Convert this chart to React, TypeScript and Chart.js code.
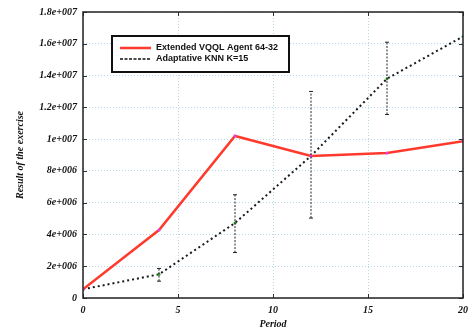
import React, { useEffect, useRef } from "react";
import { Chart, registerables } from "chart.js";

Chart.register(...registerables);

const periods = [0, 4, 8, 12, 16, 20];
const vqqlValues = [0.55e6, 4.28e6, 10.2e6, 8.94e6, 9.13e6, 9.87e6];
const knnValues = [0.55e6, 1.49e6, 4.72e6, 8.94e6, 13.8e6, 16.46e6];
const knnErrLow = [null, 1.06e6, 2.86e6, 5.03e6, 11.55e6, null];
const knnErrHigh = [null, 1.86e6, 6.5e6, 13.0e6, 16.1e6, null];
const seriesLabels = ["Extended VQQL Agent 64-32", "Adaptative KNN K=15"];
const xTitle = "Period";
const yTitle = "Result of the exercise";

const RED = "#ff3a2c";
const SERIF = "'Liberation Serif', 'Times New Roman', serif";
const SANS = "'Liberation Sans', Arial, sans-serif";

function fmtY(v: number): string {
  if (v === 0) return "0";
  const s = v.toExponential();
  return s.replace(/e\+(\d+)/, (_m, d) => "e+" + String(d).padStart(3, "0"));
}

const decorPlugin = {
  id: "decor",
  afterDatasetsDraw(chart: any) {
    const ctx = chart.ctx;
    const xs = chart.scales.x;
    const ys = chart.scales.y;
    ctx.save();
    ctx.strokeStyle = "#222";
    ctx.lineWidth = 1;
    for (let i = 0; i < periods.length; i++) {
      const lo = knnErrLow[i];
      const hi = knnErrHigh[i];
      if (lo == null || hi == null) continue;
      const px = xs.getPixelForValue(periods[i]);
      const y1 = ys.getPixelForValue(lo);
      const y2 = ys.getPixelForValue(hi);
      ctx.setLineDash([2, 1.5]);
      ctx.beginPath();
      ctx.moveTo(px, y1);
      ctx.lineTo(px, y2);
      ctx.stroke();
      ctx.setLineDash([]);
      ctx.beginPath();
      ctx.moveTo(px - 2, y1);
      ctx.lineTo(px + 2, y1);
      ctx.moveTo(px - 2, y2);
      ctx.lineTo(px + 2, y2);
      ctx.stroke();
    }
    ctx.restore();
  },
  afterDraw(chart: any) {
    const ctx = chart.ctx;
    const a = chart.chartArea;
    const xs = chart.scales.x;
    const ys = chart.scales.y;
    ctx.save();
    ctx.strokeStyle = "#333";
    ctx.lineWidth = 1;
    ctx.beginPath();
    xs.ticks.forEach((t: any) => {
      const px = Math.round(xs.getPixelForValue(t.value)) + 0.5;
      ctx.moveTo(px, a.bottom);
      ctx.lineTo(px, a.bottom - 4);
      ctx.moveTo(px, a.top);
      ctx.lineTo(px, a.top + 4);
    });
    ys.ticks.forEach((t: any) => {
      const py = Math.round(ys.getPixelForValue(t.value)) + 0.5;
      ctx.moveTo(a.left, py);
      ctx.lineTo(a.left + 4, py);
      ctx.moveTo(a.right, py);
      ctx.lineTo(a.right - 4, py);
    });
    ctx.stroke();
    ctx.strokeStyle = "#222";
    ctx.lineWidth = 1.5;
    ctx.strokeRect(a.left, a.top, a.right - a.left, a.bottom - a.top);

    // legend
    const lx = a.left + 29;
    const ly = a.top + 24;
    const lw = 177;
    const lh = 36;
    ctx.fillStyle = "#fff";
    ctx.fillRect(lx, ly, lw, lh);
    ctx.strokeStyle = "#111";
    ctx.lineWidth = 2;
    ctx.strokeRect(lx, ly, lw, lh);
    const rows = [ly + 12, ly + 23];
    ctx.lineWidth = 2.5;
    ctx.strokeStyle = RED;
    ctx.beginPath();
    ctx.moveTo(lx + 8, rows[0]);
    ctx.lineTo(lx + 39, rows[0]);
    ctx.stroke();
    ctx.strokeStyle = "#111";
    ctx.lineWidth = 1.5;
    ctx.setLineDash([3, 1.5]);
    ctx.beginPath();
    ctx.moveTo(lx + 8, rows[1]);
    ctx.lineTo(lx + 39, rows[1]);
    ctx.stroke();
    ctx.setLineDash([]);
    ctx.fillStyle = "#111";
    ctx.font = "bold 9px " + SANS;
    ctx.textBaseline = "middle";
    ctx.textAlign = "left";
    ctx.fillText(seriesLabels[0], lx + 44, rows[0]);
    ctx.fillText(seriesLabels[1], lx + 44, rows[1]);
    ctx.restore();
  },
};

export default function App() {
  const ref = useRef<HTMLCanvasElement | null>(null);
  useEffect(() => {
    if (!ref.current) return;
    const chart = new Chart(ref.current, {
      type: "line",
      data: {
        datasets: [
          {
            label: seriesLabels[0],
            data: periods.map((p, i) => ({ x: p, y: vqqlValues[i] })),
            borderColor: RED,
            borderWidth: 2.5,
            pointRadius: 1.5,
            pointBackgroundColor: "#e040e0",
            pointBorderWidth: 0,
            tension: 0,
          },
          {
            label: seriesLabels[1],
            data: periods.map((p, i) => ({ x: p, y: knnValues[i] })),
            borderColor: "#1a1a1a",
            borderWidth: 2,
            borderDash: [2, 3],
            pointRadius: 1.5,
            pointBackgroundColor: "#30a030",
            pointBorderWidth: 0,
            tension: 0,
          },
        ],
      },
      options: {
        animation: false,
        responsive: true,
        maintainAspectRatio: false,
        layout: { padding: { top: 8, right: 8, left: 0, bottom: 0 } },
        plugins: { legend: { display: false }, tooltip: { enabled: false } },
        scales: {
          x: {
            type: "linear",
            min: 0,
            max: 20,
            ticks: {
              stepSize: 5,
              padding: 6,
              color: "#111",
              font: { family: SERIF, size: 10, weight: "bold", style: "italic" },
            },
            grid: { color: "#b8d8ea", lineWidth: 1, drawTicks: false },
            border: { display: false, dash: [1, 2] },
            title: {
              display: true,
              text: xTitle,
              color: "#111",
              padding: { top: 0, bottom: 5 },
              font: { family: SERIF, size: 10, weight: "bold", style: "italic" },
            },
            afterFit: (s: any) => {
              s.height = 37;
            },
          },
          y: {
            type: "linear",
            min: 0,
            max: 1.8e7,
            ticks: {
              stepSize: 2e6,
              padding: 6,
              color: "#111",
              callback: (v: any) => fmtY(Number(v)),
              font: { family: SERIF, size: 10, weight: "bold", style: "italic" },
            },
            grid: { color: "#b8d8ea", lineWidth: 1, drawTicks: false },
            border: { display: false, dash: [1, 2] },
            title: {
              display: true,
              text: yTitle,
              color: "#111",
              padding: { top: 14, bottom: 0 },
              font: { family: SERIF, size: 10, weight: "bold", style: "italic" },
            },
            afterFit: (s: any) => {
              s.width = 83;
            },
          },
        },
      },
      plugins: [decorPlugin],
    } as any);
    return () => chart.destroy();
  }, []);
  return (
    <div style={{ position: "fixed", left: 0, top: 0, width: 474, height: 335, background: "#fff" }}>
      <canvas ref={ref} />
    </div>
  );
}
